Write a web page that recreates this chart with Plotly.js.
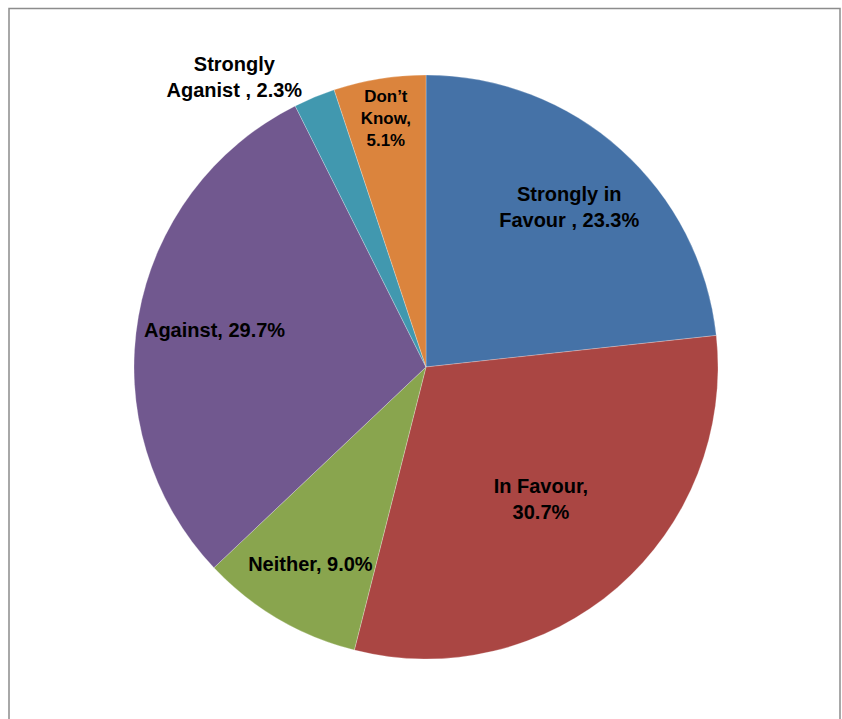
<!DOCTYPE html>
<html>
<head>
<meta charset="utf-8">
<script src="https://cdn.plot.ly/plotly-3.0.1.min.js"></script>
<style>html,body{margin:0;padding:0;background:#fff;}#chart{width:842px;height:719px;}</style>
</head>
<body>
<div id="chart"></div>
<script>
const categories = ["Strongly in Favour", "In Favour", "Neither", "Against", "Strongly Aganist", "Don’t Know"];
const values = [23.3, 30.7, 9.0, 29.7, 2.3, 5.1];
const labelTexts = ["Strongly in<br>Favour , 23.3%", "In Favour,<br>30.7%", "Neither, 9.0%", "Against, 29.7%", "Strongly<br>Aganist , 2.3%", "Don’t<br>Know,<br>5.1%"];
const colors = ["#4572A7", "#AA4643", "#89A54E", "#71588F", "#4198AF", "#DB843D"];
const positions = ["inside", "inside", "inside", "inside", "outside", "inside"];
// which labels sit in the outer ring (placed further from the centre)
const outerRing = [true, false, false, true, false, false];

const W = 842, H = 719;
const cx = 426, cy = 367, r = 292;
const domain = {x: [(cx - r) / W, (cx + r) / W], y: [1 - (cy + r) / H, 1 - (cy - r) / H]};
const font = {family: "Liberation Sans, Arial, Helvetica, sans-serif", size: 20, color: "#000", weight: "bold"};
const clear = categories.map(() => "rgba(0,0,0,0)");

const base = {
  type: "pie", labels: categories, values: values, sort: false,
  direction: "clockwise", rotation: 0, domain: domain, automargin: false
};

const slices = Object.assign({}, base, {
  textinfo: "none",
  marker: {colors: colors, line: {color: "rgba(255,255,255,0.5)", width: 0.5}},
  hoverinfo: "label+percent"
});

const innerText = Object.assign({}, base, {
  hole: 0.2,
  text: labelTexts.map((t, i) => outerRing[i] ? "" : t),
  textinfo: "text",
  textposition: positions,
  insidetextorientation: "horizontal",
  textfont: font, insidetextfont: font, outsidetextfont: font,
  marker: {colors: clear, line: {width: 0}},
  hoverinfo: "skip"
});

const outerText = Object.assign({}, base, {
  hole: 0.47,
  text: labelTexts.map((t, i) => outerRing[i] ? t : ""),
  textinfo: "text",
  textposition: positions,
  insidetextorientation: "horizontal",
  textfont: font, insidetextfont: font, outsidetextfont: font,
  marker: {colors: clear, line: {width: 0}},
  hoverinfo: "skip"
});

const layout = {
  width: W, height: H,
  margin: {l: 0, r: 0, t: 0, b: 0},
  showlegend: false,
  paper_bgcolor: "#fff",
  shapes: [{
    type: "rect", xref: "paper", yref: "paper",
    x0: 9 / W, x1: 840 / W, y0: -0.02, y1: 1 - 8.5 / H,
    line: {color: "#8c8c8c", width: 1.5}
  }]
};

Plotly.newPlot("chart", [slices, innerText, outerText], layout, {displayModeBar: false, staticPlot: true});
</script>
</body>
</html>
